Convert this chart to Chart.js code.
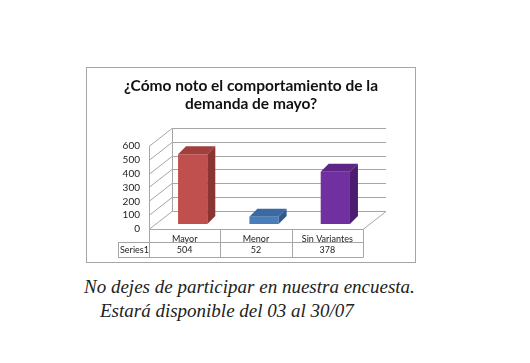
<!DOCTYPE html>
<html>
<head>
<meta charset="utf-8">
<script src="https://cdn.jsdelivr.net/npm/chart.js@4.4.0/dist/chart.umd.min.js"></script>
<style>
  body { margin: 0; background: #fff; width: 530px; height: 363px; overflow: hidden; position: relative; }
  #caja { position: absolute; left: 86px; top: 67px; width: 328px; height: 194px; border: 1px solid #a6a6a6; }
  #nota { position: absolute; left: 0; top: 272px; width: 530px; font-family: "Liberation Serif", serif; font-style: italic; font-size: 19px; color: #222; }
  #nota div { position: absolute; white-space: nowrap; }
</style>
</head>
<body>
<div id="caja"><canvas id="grafica" width="328" height="194"></canvas></div>
<div id="nota">
  <div style="left:84px; top:4px;">No dejes de participar en nuestra encuesta.</div>
  <div style="left:100px; top:28px;">Estará disponible del 03 al 30/07</div>
</div>
<script>
// Datos de la encuesta
var categorias = ['Mayor', 'Menor', 'Sin Variantes'];
var valores = [504, 52, 378];
var nombreSerie = 'Series1';
var titulo = ['¿Cómo noto el comportamiento de la', 'demanda de mayo?'];

// Colores de cada barra: frente, tapa, lado
var coloresFrente = ['#c0504d', '#4a7ebb', '#7030a0'];
var coloresTapa = ['#a03f3c', '#3b69a2', '#5c2586'];
var coloresLado = ['#8a3532', '#2f5a8e', '#4b1d70'];

var fondoX = 23, fondoY = -18;   // profundidad de las paredes
var barX = 8, barY = -5;         // desplazamiento de las barras
var profX = 8, profY = -8;       // profundidad de las barras
var gris = '#a6a6a6';

var plugin3d = {
    id: 'plugin3d',
    beforeDatasetsDraw: function (chart) {
        var ctx = chart.ctx;
        var a = chart.chartArea;
        var y = chart.scales.y;
        ctx.save();
        ctx.strokeStyle = gris;
        ctx.lineWidth = 1;
        // piso y rejilla
        y.ticks.forEach(function (t) {
            var py = Math.round(y.getPixelForValue(t.value)) + 0.5;
            ctx.beginPath();
            ctx.moveTo(a.left, py);
            ctx.lineTo(a.left + fondoX, py + fondoY);
            ctx.lineTo(a.right + fondoX, py + fondoY);
            ctx.stroke();
        });
        var y0 = Math.round(y.getPixelForValue(0)) + 0.5;
        var yTop = Math.round(y.getPixelForValue(600)) + 0.5;
        ctx.beginPath();
        ctx.moveTo(a.left + fondoX + 0.5, yTop + fondoY);
        ctx.lineTo(a.left + fondoX + 0.5, y0 + fondoY);
        ctx.moveTo(a.left + 0.5, yTop);
        ctx.lineTo(a.left + 0.5, y0);
        ctx.lineTo(a.right, y0);
        ctx.lineTo(a.right + fondoX, y0 + fondoY);
        ctx.stroke();
        ctx.restore();
        ctx.save();
        ctx.translate(barX, barY);
    },
    afterDatasetsDraw: function (chart) {
        var ctx = chart.ctx;
        var meta = chart.getDatasetMeta(0);
        meta.data.forEach(function (bar, i) {
            var l = bar.x - bar.width / 2, r = bar.x + bar.width / 2;
            var t = bar.y, b = bar.base;
            ctx.fillStyle = coloresTapa[i];
            ctx.beginPath();
            ctx.moveTo(l, t);
            ctx.lineTo(l + profX, t + profY);
            ctx.lineTo(r + profX, t + profY);
            ctx.lineTo(r, t);
            ctx.closePath();
            ctx.fill();
            ctx.fillStyle = coloresLado[i];
            ctx.beginPath();
            ctx.moveTo(r, t);
            ctx.lineTo(r + profX, t + profY);
            ctx.lineTo(r + profX, b + profY);
            ctx.lineTo(r, b);
            ctx.closePath();
            ctx.fill();
        });
        ctx.restore();

        // tabla de datos
        var a = chart.chartArea;
        var x = chart.scales.x;
        var y0 = Math.round(chart.scales.y.getPixelForValue(0)) + 0.5;
        var paso = (a.right - a.left) / categorias.length;
        var fila1 = y0 + 13, fila2 = y0 + 28;
        var izq = a.left - 31;
        ctx.save();
        ctx.strokeStyle = gris;
        ctx.lineWidth = 1;
        ctx.beginPath();
        ctx.moveTo(izq, fila1); ctx.lineTo(a.right, fila1);
        ctx.moveTo(izq, fila2); ctx.lineTo(a.right, fila2);
        ctx.moveTo(izq + 0.5, fila1); ctx.lineTo(izq + 0.5, fila2);
        for (var k = 0; k <= categorias.length; k++) {
            var vx = Math.round(a.left + k * paso) + 0.5;
            ctx.moveTo(vx, y0); ctx.lineTo(vx, fila2);
        }
        ctx.stroke();
        ctx.fillStyle = '#222';
        ctx.font = '9px Lato';
        ctx.textBaseline = 'middle';
        ctx.textAlign = 'left';
        ctx.fillText(nombreSerie, izq + 2, (fila1 + fila2) / 2);
        ctx.textAlign = 'center';
        valores.forEach(function (v, i) {
            ctx.fillText(String(v), x.getPixelForValue(i), (fila1 + fila2) / 2);
        });
        ctx.restore();
    }
};

var ctx = document.getElementById('grafica').getContext('2d');
var myChart = new Chart(ctx, {
    type: 'bar',
    data: {
        labels: categorias,
        datasets: [{
            label: nombreSerie,
            data: valores,
            backgroundColor: coloresFrente,
            barPercentage: 0.41,
            categoryPercentage: 1
        }]
    },
    options: {
        responsive: false,
        animation: false,
        events: [],
        layout: { padding: 0 },
        plugins: {
            legend: { display: false },
            tooltip: { enabled: false },
            title: {
                display: true,
                text: titulo,
                color: '#111',
                font: { family: 'Lato', size: 15.5, weight: 'bold', lineHeight: 1.16 },
                padding: { top: 9, bottom: 33 }
            }
        },
        scales: {
            x: {
                grid: { display: false, drawTicks: false },
                border: { display: false },
                ticks: { color: '#222', font: { family: 'Lato', size: 9 }, padding: 5 },
                afterFit: function (axis) { axis.height = 33; }
            },
            y: {
                min: 0,
                max: 600,
                ticks: { stepSize: 100, autoSkip: false, color: '#222', font: { family: 'Lato', size: 10 }, padding: 9 },
                grid: { display: false, drawTicks: false },
                border: { display: false },
                afterFit: function (axis) { axis.width = 62; }
            },
            // eje vacío a la derecha para dejar sitio a la profundidad 3D
            derecha: {
                type: 'linear',
                position: 'right',
                ticks: { display: false },
                grid: { display: false, drawTicks: false },
                border: { display: false },
                afterFit: function (axis) { axis.width = 52; }
            }
        }
    },
    plugins: [plugin3d]
});
</script>
</body>
</html>
